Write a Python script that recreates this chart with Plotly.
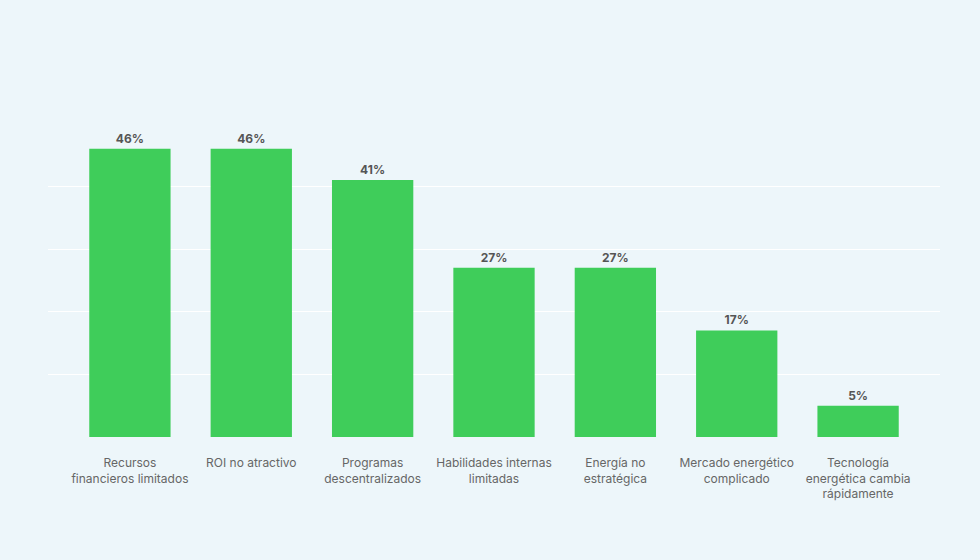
import plotly.graph_objects as go

categories = [
    "Recursos<br>financieros limitados",
    "ROI no atractivo",
    "Programas<br>descentralizados",
    "Habilidades internas<br>limitadas",
    "Energía no<br>estratégica",
    "Mercado energético<br>complicado",
    "Tecnología<br>energética cambia<br>rápidamente",
]
values = [46, 46, 41, 27, 27, 17, 5]
labels = [f"{v}%" for v in values]

bg = "#edf6fa"
fam = "Inter, Arial, sans-serif"
fig = go.Figure(
    go.Bar(
        x=list(range(len(categories))),
        y=values,
        text=labels,
        textposition="outside",
        cliponaxis=False,
        marker=dict(color="#3fcd5a", line=dict(width=0)),
        width=0.67,
        textfont=dict(family=fam, size=12, color="#555555", weight="bold"),
    )
)
fig.update_layout(
    width=980,
    height=560,
    paper_bgcolor=bg,
    plot_bgcolor=bg,
    margin=dict(l=48, r=40, t=130, b=123),
    showlegend=False,
    font=dict(family=fam, size=12, color="#666666"),
    xaxis=dict(
        range=[-0.675, 6.675],
        tickmode="array",
        tickvals=list(range(len(categories))),
        ticktext=categories,
        showgrid=False,
        zeroline=False,
        showline=False,
        ticks="",
        ticklen=0,
        ticklabelstandoff=17,
        tickfont=dict(family=fam, size=12, color="#666666"),
    ),
    yaxis=dict(
        range=[0, 49],
        tickvals=[10, 20, 30, 40],
        showticklabels=False,
        showgrid=True,
        gridcolor="#ffffff",
        gridwidth=1,
        zeroline=False,
        showline=False,
    ),
)
fig.write_html("out.html")
